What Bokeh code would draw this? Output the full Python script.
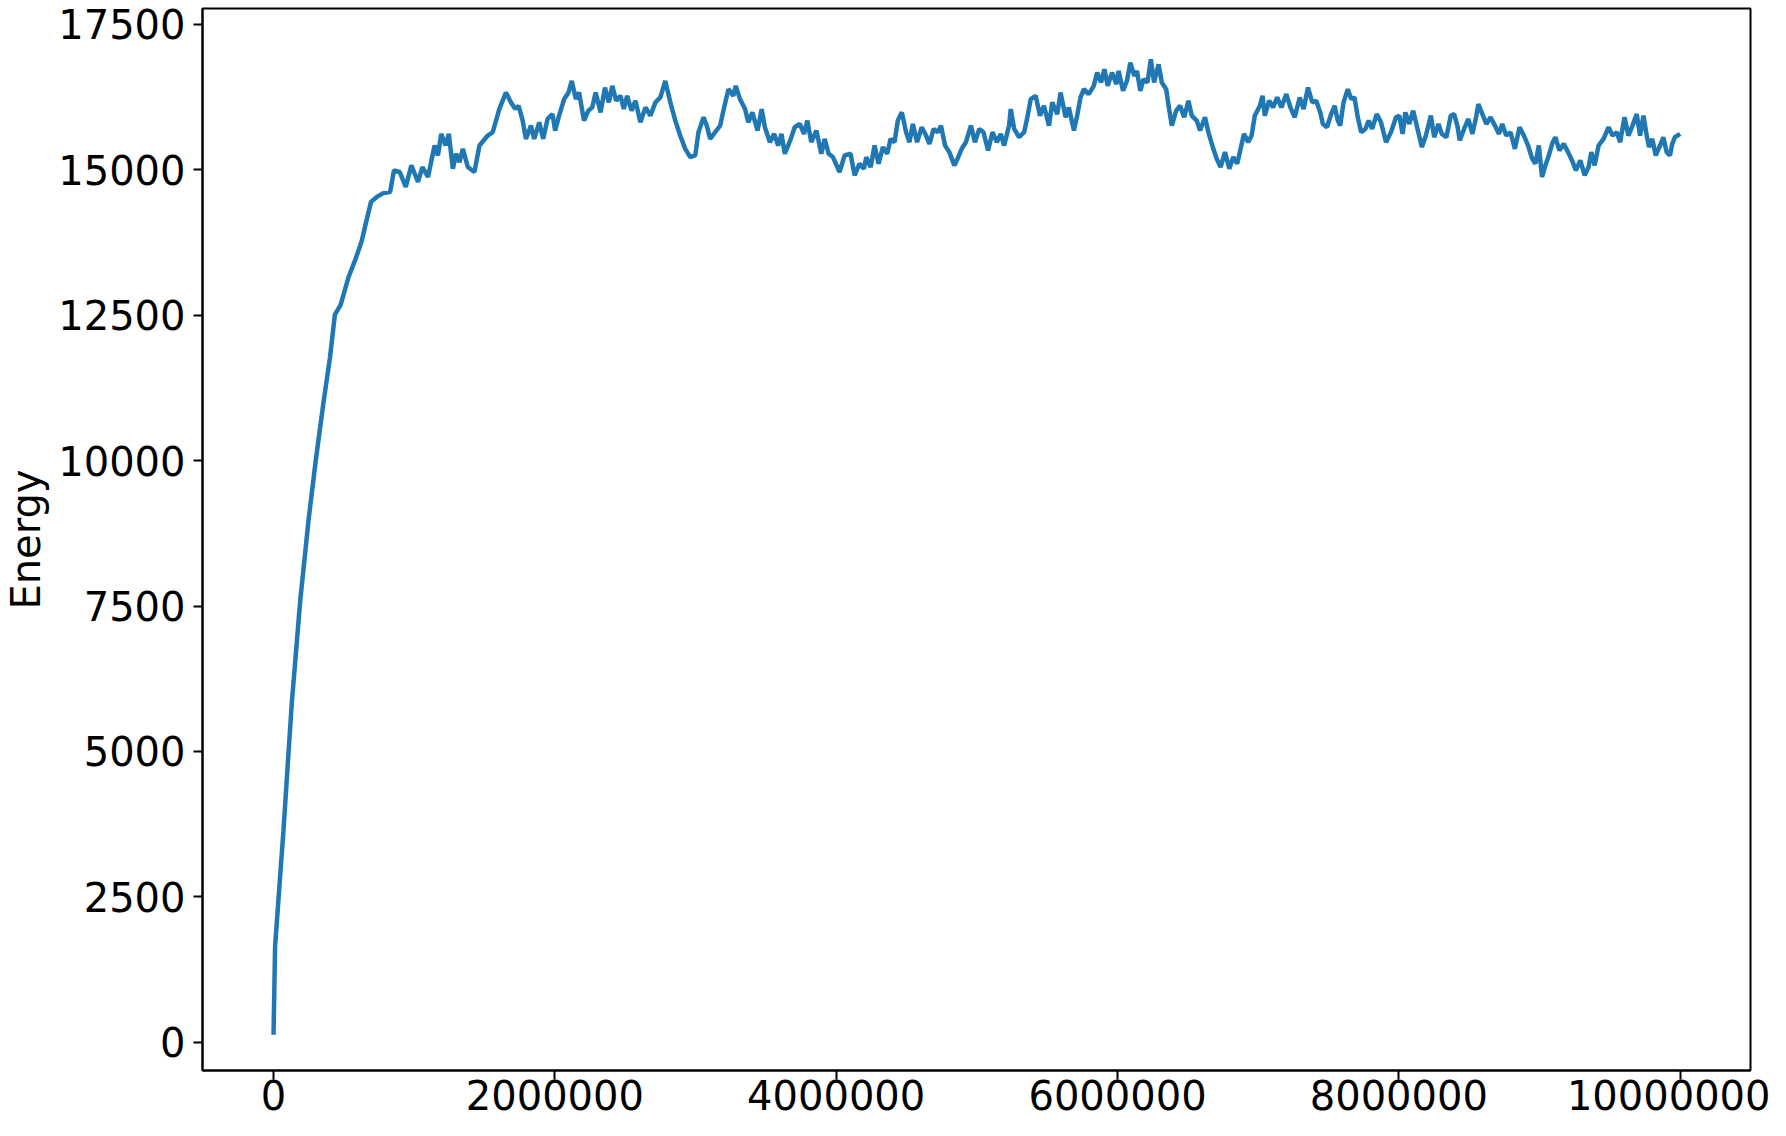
from bokeh.plotting import figure
from bokeh.models import Range1d, FixedTicker, BasicTickFormatter
from bokeh.embed import file_html
from bokeh.resources import INLINE

# Monte Carlo step (in thousands of steps) and energy
steps_thousands = [
    0, 11, 70, 130, 190, 250, 300, 355, 401, 436, 477, 531, 585, 626, 653, 693, 734, 780, 829, 856,
    897, 940, 980, 1027, 1058, 1098, 1145, 1169, 1192, 1223, 1246, 1275, 1298, 1322, 1346, 1381, 1428,
    1464, 1523, 1558, 1605, 1652, 1688, 1719, 1742, 1771, 1794, 1830, 1853, 1889, 1917, 1948, 1983,
    2002, 2030, 2066, 2097, 2120, 2149, 2172, 2207, 2238, 2266, 2290, 2325, 2356, 2384, 2408, 2436,
    2467, 2490, 2514, 2545, 2573, 2608, 2644, 2679, 2715, 2750, 2785, 2821, 2856, 2891, 2927, 2962,
    2998, 3021, 3057, 3080, 3104, 3139, 3175, 3198, 3234, 3269, 3286, 3316, 3352, 3375, 3404, 3441,
    3470, 3493, 3529, 3559, 3587, 3611, 3635, 3677, 3705, 3741, 3771, 3795, 3823, 3859, 3894, 3918,
    3946, 3977, 4024, 4060, 4102, 4131, 4166, 4197, 4214,
    4245, 4273, 4301, 4332, 4363, 4386, 4415, 4438, 4467, 4497, 4521, 4545, 4575, 4608, 4639, 4663,
    4693, 4722, 4745, 4774, 4804, 4840, 4863, 4892, 4922, 4958, 4986, 5017, 5047, 5080, 5111, 5142,
    5170, 5194, 5229, 5241, 5265, 5300, 5336, 5359, 5383, 5418, 5449, 5477, 5513, 5536, 5572, 5595,
    5631, 5654, 5690, 5713, 5737, 5761, 5796, 5831, 5855, 5883, 5907, 5930, 5961, 5992, 6008, 6039,
    6067, 6091, 6119, 6138, 6162, 6185, 6213, 6237, 6260, 6292, 6315, 6346, 6363, 6386, 6417, 6445,
    6474, 6504, 6528, 6563, 6587, 6622, 6646, 6681, 6705, 6733, 6764, 6795, 6823, 6851, 6875, 6899,
    6929, 6953, 6976, 7012, 7031, 7047, 7078, 7106, 7135, 7165, 7200, 7229, 7260, 7295, 7323, 7354,
    7385,
    7413, 7441, 7460, 7489, 7519, 7543, 7566, 7583, 7607, 7637, 7661, 7685, 7708, 7732, 7762, 7786,
    7810, 7843, 7873, 7909, 7944, 7980, 8003, 8027, 8046, 8074, 8102, 8133, 8164, 8192, 8228, 8251,
    8282, 8305, 8338, 8369, 8393, 8416, 8433, 8464, 8494, 8523, 8551, 8565, 8594, 8622, 8652, 8683,
    8712, 8735, 8763, 8794, 8825, 8858, 8889, 8919, 8948, 8971, 8995, 9018, 9042, 9066, 9094, 9113,
    9141, 9172, 9203, 9231, 9259, 9290, 9321, 9349, 9368, 9392, 9420, 9455, 9491, 9519, 9550, 9573,
    9604, 9632, 9661, 9691, 9715, 9739, 9762, 9779, 9802, 9826, 9857, 9880, 9904, 9927, 9944, 9963,
    10000,
]

energy = [
    127, 1650, 3620, 5840, 7600, 9000, 10000, 11000, 11770, 12510, 12680, 13140, 13480, 13770, 14050,
    14450, 14535, 14600, 14620, 14990,
    14963, 14707, 15077, 14792, 15049, 14878, 15419, 15248, 15619, 15419, 15619, 15020, 15277, 15134,
    15362, 15049, 14963, 15419, 15590, 15647, 16046, 16331, 16160, 16046, 16103, 15847, 15533, 15761,
    15533, 15818, 15533, 15875, 15960, 15676, 15932, 16217, 16331, 16530, 16217, 16331, 15847, 16018,
    16075, 16331, 15989, 16416, 16160, 16445, 16189, 16274, 16046, 16274, 16018, 16189, 15818, 16075,
    15932, 16160, 16246, 16530, 16160, 15847, 15590, 15362, 15220, 15248, 15647, 15904, 15761, 15533,
    15647, 15761, 16018, 16388, 16274, 16445, 16217, 16046, 15818, 15989, 15676, 16046, 15733, 15476,
    15619, 15419, 15619, 15277, 15533, 15733, 15790, 15619, 15847, 15476, 15676, 15277, 15533, 15277,
    15220, 14963, 15248, 15277, 14906, 15106, 15020, 15220,
    15049, 15419, 15106, 15391, 15277, 15533, 15476, 15847, 15989, 15647, 15476, 15790, 15476, 15733,
    15590, 15448, 15704, 15647, 15761, 15419, 15305, 15077, 15191, 15362, 15476, 15761, 15476, 15704,
    15647, 15334, 15647, 15476, 15619, 15419, 15761, 16046, 15704, 15562, 15647, 15904, 16217, 16274,
    15932, 16103, 15761, 16160, 15960, 16331, 15904, 16075, 15676, 15932, 16246, 16388, 16303, 16445,
    16673, 16502, 16730, 16445, 16673, 16474, 16701, 16360, 16530, 16844, 16616, 16701, 16360, 16559,
    16502, 16901, 16502, 16816, 16502, 16388, 16103, 15761, 16018, 16103, 15904, 16189, 15932, 15847,
    15676, 15904, 15647, 15362, 15191, 15049, 15305, 15020, 15220, 15106, 15362, 15619, 15476, 15590,
    15932, 16103, 16274, 15932, 16189, 16075, 16246, 16075, 16303, 16075, 15904, 16246, 16046, 16416,
    16160,
    16189, 15989, 15790, 15733, 15960, 16103, 15847, 15761, 16160, 16388, 16217, 16246, 15904, 15647,
    15704, 15847, 15704, 15960, 15818, 15476, 15647, 15904, 15932, 15619, 15989, 15790, 16018, 15704,
    15391, 15590, 15932, 15562, 15790, 15619, 15562, 15932, 15960, 15761, 15505, 15704, 15875, 15619,
    15932, 16132, 15960, 15790, 15904, 15761, 15619, 15790, 15590, 15647, 15362, 15733, 15590, 15419,
    15191, 15106, 15419, 14878, 15077, 15248, 15476, 15562, 15334, 15448, 15305, 15162, 14992, 15162,
    14906, 15049, 15305, 15077, 15419, 15533, 15733, 15590, 15647, 15476, 15904, 15590, 15761, 15960,
    15590, 15932, 15590, 15391, 15533, 15248, 15419, 15562, 15305, 15248, 15448, 15562, 15619,
]

x_ticks = [0, 2000000, 4000000, 6000000, 8000000, 10000000]
y_ticks = [0, 2500, 5000, 7500, 10000, 12500, 15000, 17500]

steps = [s * 1000 for s in steps_thousands]

FONT = "DejaVu Sans"

p = figure(
    width=1770, height=1120,
    output_backend="svg", toolbar_location=None,
    x_range=Range1d(-505000, 10500000),
    y_range=Range1d(-487, 17775),
    min_border_left=202, min_border_right=20, min_border_top=8, min_border_bottom=50,
    background_fill_color="white", border_fill_color="white",
)
p.xgrid.visible = False
p.ygrid.visible = False
p.outline_line_color = "black"
p.outline_line_width = 2
p.outline_line_alpha = 1.0

p.line(steps, energy, line_width=4.5, line_color="#1f77b4")

p.xaxis.ticker = FixedTicker(ticks=x_ticks)
p.yaxis.ticker = FixedTicker(ticks=y_ticks)
p.xaxis.formatter = BasicTickFormatter(use_scientific=False)
p.yaxis.formatter = BasicTickFormatter(use_scientific=False)

for ax in (p.xaxis[0], p.yaxis[0]):
    ax.axis_line_color = "black"
    ax.axis_line_width = 2
    ax.major_tick_line_color = "black"
    ax.major_tick_line_width = 2
    ax.major_tick_out = 9
    ax.major_tick_in = 0
    ax.minor_tick_line_color = None
    ax.major_label_text_font = FONT
    ax.major_label_text_font_size = "40px"
    ax.major_label_text_color = "black"

p.xaxis.major_label_standoff = 0
p.yaxis.major_label_standoff = 8
p.yaxis.axis_label = "Energy"
p.yaxis.axis_label_text_font = FONT
p.yaxis.axis_label_text_font_size = "40px"
p.yaxis.axis_label_text_font_style = "normal"
p.yaxis.axis_label_text_color = "black"
p.yaxis.axis_label_standoff = 6

open("out.html", "w").write(file_html(p, INLINE))
